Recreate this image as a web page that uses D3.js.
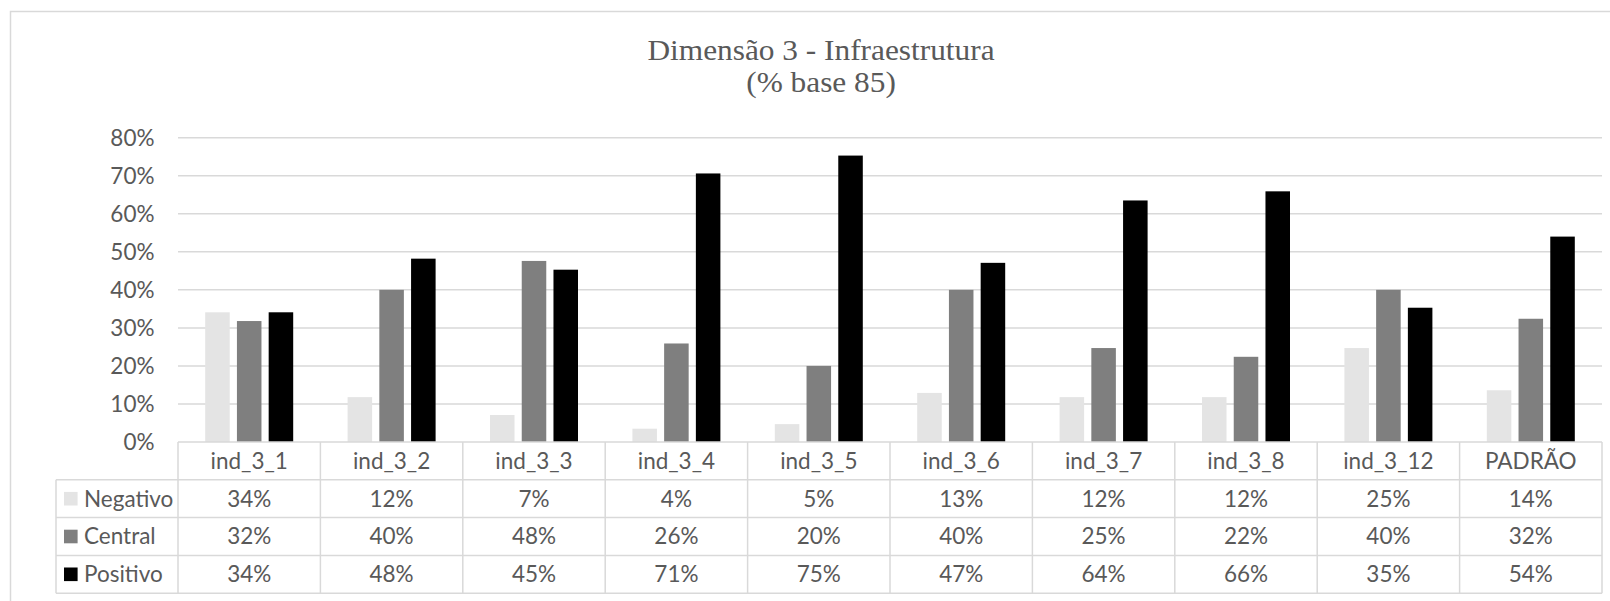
<!DOCTYPE html>
<html>
<head>
<meta charset="utf-8">
<script src="https://cdn.jsdelivr.net/npm/d3@7"></script>
<style>
  html, body { margin: 0; padding: 0; background: #fff; }
  svg { display: block; }
</style>
</head>
<body>
<svg id="chart" width="1610" height="601"></svg>
<script>
// Indicators of dimension 3 (infrastructure), share of answers over a base of 85
const categories = ["ind_3_1", "ind_3_2", "ind_3_3", "ind_3_4", "ind_3_5", "ind_3_6", "ind_3_7", "ind_3_8", "ind_3_12", "PADRÃO"];
const seriesNames = ["Negativo", "Central", "Positivo"];
const negativo = [34.1, 11.8, 7.1, 3.5, 4.7, 12.9, 11.8, 11.8, 24.7, 13.6];
const central  = [31.8, 40.0, 47.6, 25.9, 20.0, 40.0, 24.7, 22.4, 40.0, 32.4];
const positivo = [34.1, 48.2, 45.3, 70.6, 75.3, 47.1, 63.5, 65.9, 35.3, 54.0];
const yTicks = [0, 10, 20, 30, 40, 50, 60, 70, 80];
const titleLines = ["Dimensão 3 - Infraestrutura", "(% base 85)"];

const seriesValues = [negativo, central, positivo];
const colors = ["#e4e4e4", "#7f7f7f", "#000000"];
const textColor = "#595959";
const lineColor = "#d9d9d9";
const sansFont = "Lato, 'Open Sans', sans-serif";
const sansSize = 22.5;

const svg = d3.select("#chart");

// chart frame
svg.append("rect")
  .attr("x", 10.5).attr("y", 11.5)
  .attr("width", 1660).attr("height", 640)
  .attr("fill", "#fff").attr("stroke", lineColor).attr("stroke-width", 1.5);

// title (slightly widened serif face)
const title = svg.append("g")
  .attr("transform", "translate(821,0) scale(1.1,1)")
  .append("text")
  .attr("text-anchor", "middle")
  .attr("font-family", "'Liberation Serif', 'Times New Roman', serif")
  .attr("font-size", 28.5)
  .attr("fill", textColor);
titleLines.forEach((t, i) => {
  title.append("tspan").attr("x", 0).attr("y", 60.5 + i * 32).text(t);
});

// plot geometry
const plotLeft = 178, plotRight = 1602, plotTop = 137.7, plotBottom = 442;
const rowH = 37.8;
const labelColLeft = 56;

const x0 = d3.scaleBand().domain(categories).range([plotLeft, plotRight]).paddingInner(0).paddingOuter(0);
const groupWidth = 88;
const x1 = d3.scaleBand().domain(seriesNames).range([0, groupWidth]).paddingInner(0.227).paddingOuter(0);
const y = d3.scaleLinear().domain([0, 80]).range([plotBottom, plotTop]);

// gridlines
svg.append("g")
  .selectAll("line")
  .data(yTicks.filter(d => d > 0))
  .join("line")
  .attr("x1", plotLeft).attr("x2", plotRight)
  .attr("y1", d => y(d)).attr("y2", d => y(d))
  .attr("stroke", lineColor).attr("stroke-width", 1.5);

// y axis labels
const yAxis = d3.axisLeft(y).tickValues(yTicks).tickSize(0).tickPadding(0).tickFormat(d => d + "%");
const yG = svg.append("g").attr("transform", `translate(${plotLeft - 23.5},0)`).call(yAxis);
yG.select(".domain").remove();
yG.selectAll("text")
  .attr("font-family", sansFont).attr("font-size", sansSize)
  .attr("fill", textColor).attr("dy", "0.35em");

// bars
const groups = svg.append("g")
  .selectAll("g")
  .data(categories)
  .join("g")
  .attr("transform", c => `translate(${x0(c) + (x0.bandwidth() - groupWidth) / 2},0)`);

groups.selectAll("rect")
  .data((c, i) => seriesNames.map((s, k) => ({ s, k, v: seriesValues[k][i] })))
  .join("rect")
  .attr("x", d => x1(d.s))
  .attr("width", x1.bandwidth())
  .attr("y", d => y(d.v))
  .attr("height", d => y(0) - y(d.v))
  .attr("fill", d => colors[d.k]);

// data table
const table = svg.append("g");
const fmt = v => d3.format(".0f")(v) + "%";

// horizontal lines of the table
const rowLines = [0, 1, 2, 3, 4].map(i => plotBottom + i * rowH);
rowLines.forEach((ly, i) => {
  table.append("line")
    .attr("x1", i === 0 ? plotLeft : labelColLeft).attr("x2", plotRight)
    .attr("y1", ly).attr("y2", ly)
    .attr("stroke", lineColor).attr("stroke-width", 1.5);
});
// vertical lines: category boundaries
categories.concat([null]).forEach(c => {
  const lx = c === null ? plotRight : x0(c);
  table.append("line")
    .attr("x1", lx).attr("x2", lx)
    .attr("y1", plotBottom).attr("y2", plotBottom + 4 * rowH)
    .attr("stroke", lineColor).attr("stroke-width", 1.5);
});
// left edge of the series label column
table.append("line")
  .attr("x1", labelColLeft).attr("x2", labelColLeft)
  .attr("y1", plotBottom + rowH).attr("y2", plotBottom + 4 * rowH)
  .attr("stroke", lineColor).attr("stroke-width", 1.5);

// header row: category names
table.selectAll("text.cat")
  .data(categories)
  .join("text")
  .attr("class", "cat")
  .attr("x", c => x0(c) + x0.bandwidth() / 2)
  .attr("y", plotBottom + rowH / 2)
  .attr("dy", "0.35em")
  .attr("text-anchor", "middle")
  .attr("font-family", sansFont).attr("font-size", sansSize)
  .attr("fill", textColor)
  .text(c => c);

// series rows: legend key, name, values
seriesNames.forEach((s, k) => {
  const cy = plotBottom + (k + 1) * rowH + rowH / 2;
  table.append("rect")
    .attr("x", 64).attr("y", cy - 6.8)
    .attr("width", 13.6).attr("height", 13.6)
    .attr("fill", colors[k]);
  table.append("text")
    .attr("x", 84).attr("y", cy).attr("dy", "0.35em")
    .attr("font-family", sansFont).attr("font-size", sansSize)
    .attr("fill", textColor)
    .text(s);
  table.selectAll(null)
    .data(categories)
    .join("text")
    .attr("x", c => x0(c) + x0.bandwidth() / 2)
    .attr("y", cy).attr("dy", "0.35em")
    .attr("text-anchor", "middle")
    .attr("font-family", sansFont).attr("font-size", sansSize)
    .attr("fill", textColor)
    .text((c, i) => fmt(seriesValues[k][i]));
});
</script>
</body>
</html>
